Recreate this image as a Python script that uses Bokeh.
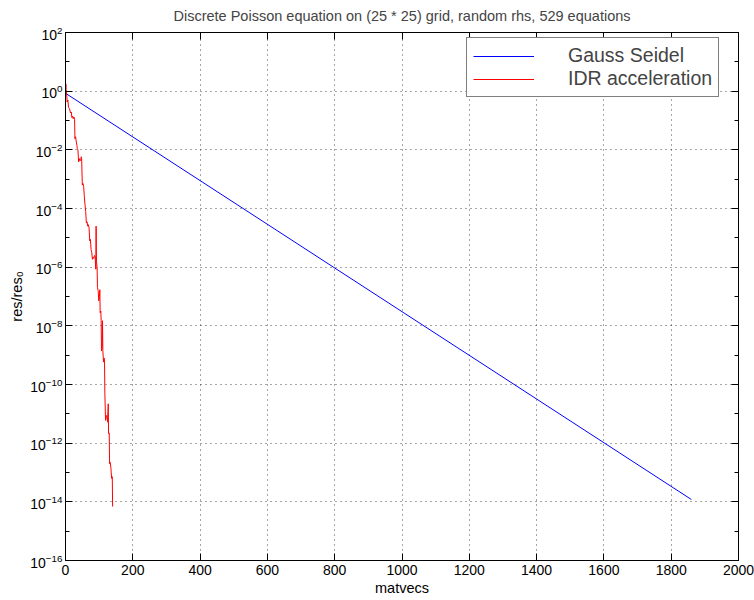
from bokeh.plotting import figure
from bokeh.models import (LinearAxis, LogAxis, FixedTicker, Range1d, Legend, LegendItem,
                          LogTickFormatter)
from bokeh.embed import file_html
from bokeh.resources import INLINE

# ---- data ----
gs_x = [0, 1860]
gs_y = [0.85, 1.2e-14]

idr_x = [0, 1, 2, 4, 5, 7, 9, 12, 15, 17, 19, 21, 23, 25, 27, 28, 30, 32, 34, 35, 37, 39,
         41, 43, 45, 47, 48, 50, 52, 54, 56, 58, 60, 62, 64, 66, 68, 70, 72, 74, 76, 78,
         80, 82, 84, 86, 88, 90, 91, 92, 94, 95, 97, 99, 101, 102, 103, 105, 106, 107,
         109, 110, 111, 113, 115, 116, 117, 119, 121, 123, 125, 127, 128, 130, 131, 133,
         135, 137, 139, 140]
idr_y = [1.26, 1.78, 1.12, 0.63, 0.43, 0.5, 0.28, 0.25, 0.18, 0.195, 0.126, 0.141, 0.115,
         0.132, 0.11, 0.024, 0.028, 0.0186, 0.0141, 0.011, 0.01, 0.0039, 0.005, 0.0042,
         0.0044, 0.0058, 0.005, 6.3e-4, 7.1e-4, 5.6e-4, 2.5e-4, 1.35e-4, 7.9e-5, 3.2e-5,
         3.5e-5, 2.5e-5, 2.8e-5, 2.2e-5, 7.9e-6, 8.9e-6, 4.0e-6, 3.2e-6, 1.86e-6, 2.2e-6,
         2.0e-6, 2.5e-6, 2.3e-6, 8.5e-7, 2.5e-5, 1.6e-6, 9.5e-7, 2.0e-7, 1.6e-7, 7.1e-8,
         1.0e-7, 1.7e-7, 2.8e-8, 3.2e-8, 1.5e-8, 1.4e-9, 2.0e-9, 1.5e-8, 1.4e-9, 5.8e-10,
         7.9e-10, 5.8e-10, 4.8e-11, 6.0e-12, 7.9e-12, 8.9e-12, 5.2e-12, 2.2e-11, 2.1e-12,
         2.2e-12, 2.0e-13, 2.2e-13, 1.4e-13, 6.3e-14, 7.2e-14, 6.9e-15]

x_ticks = [0, 200, 400, 600, 800, 1000, 1200, 1400, 1600, 1800, 2000]
y_ticks = [1e-16, 1e-14, 1e-12, 1e-10, 1e-8, 1e-6, 1e-4, 1e-2, 1e0, 1e2]
y_minor = [1e-15, 1e-13, 1e-11, 1e-9, 1e-7, 1e-5, 1e-3, 1e-1, 1e1]

title_text = "Discrete Poisson equation on (25 * 25) grid, random rhs, 529 equations"
x_label = "matvecs"
y_label = "res/res\u2080"
labels = ["Gauss Seidel", "IDR acceleration"]

FONT = "Liberation Sans"

yt = FixedTicker(ticks=y_ticks, minor_ticks=y_minor)
xt = FixedTicker(ticks=x_ticks)

p = figure(width=754, height=600, output_backend="svg", toolbar_location=None,
           y_axis_type="log", x_range=Range1d(0, 2000), y_range=Range1d(1e-16, 1e2),
           min_border_left=65, min_border_right=16, min_border_top=30, min_border_bottom=40,
           x_axis_location=None, y_axis_location=None,
           title=title_text)

p.title.align = "center"
p.title.vertical_align = "top"
p.title.text_font = FONT
p.title.text_font_size = "14.5px"
p.title.text_font_style = "normal"
p.title.standoff = 14

bottom = LinearAxis(ticker=xt, axis_label=x_label)
left = LogAxis(ticker=yt, axis_label=y_label, formatter=LogTickFormatter())
top = LinearAxis(ticker=xt)
right = LogAxis(ticker=yt)

for ax in (bottom, left, top, right):
    ax.major_tick_in = 7
    ax.major_tick_out = 0
    ax.minor_tick_in = 4
    ax.minor_tick_out = 0
    ax.axis_line_color = "black"
    ax.major_tick_line_color = "black"
    ax.minor_tick_line_color = "black"
    ax.major_label_text_font = FONT
    ax.major_label_text_font_size = "14px"
    ax.major_label_text_color = "black"
    ax.axis_label_text_font = FONT
    ax.axis_label_text_font_size = "14.5px"
    ax.axis_label_text_font_style = "normal"
    ax.axis_label_text_color = "black"

bottom.minor_tick_line_color = None
top.minor_tick_line_color = None
bottom.major_label_standoff = 4
bottom.axis_label_standoff = 2
left.major_label_standoff = 3
left.axis_label_standoff = 2

for ax in (top, right):
    ax.major_label_text_color = None
    ax.major_label_text_font_size = "1px"
    ax.major_label_standoff = 0

p.add_layout(bottom, "below")
p.add_layout(left, "left")
p.add_layout(top, "above")
p.add_layout(right, "right")

for g in p.xgrid:
    g.ticker = xt
for g in p.ygrid:
    g.ticker = yt
p.grid.grid_line_color = "black"
p.grid.grid_line_alpha = 0.7
p.grid.grid_line_dash = "1 4"
p.grid.grid_line_width = 1

p.outline_line_color = "black"
p.outline_line_alpha = 1
p.background_fill_color = "white"
p.border_fill_color = "white"

r1 = p.line(gs_x, gs_y, line_color="#0000ff", line_width=1)
r2 = p.line(idr_x, idr_y, line_color="#ff0000", line_width=1)

legend = Legend(items=[LegendItem(label=labels[0], renderers=[r1]),
                       LegendItem(label=labels[1], renderers=[r2])],
                location=(401, 463), padding=6, margin=0, spacing=-7,
                glyph_width=61, glyph_height=18, label_height=18, label_standoff=34,
                label_text_font=FONT, label_text_font_size="19.5px",
                border_line_color="black", border_line_width=1,
                background_fill_color="white", background_fill_alpha=1)
p.add_layout(legend, "center")

open("out.html", "w").write(file_html(p, INLINE))
